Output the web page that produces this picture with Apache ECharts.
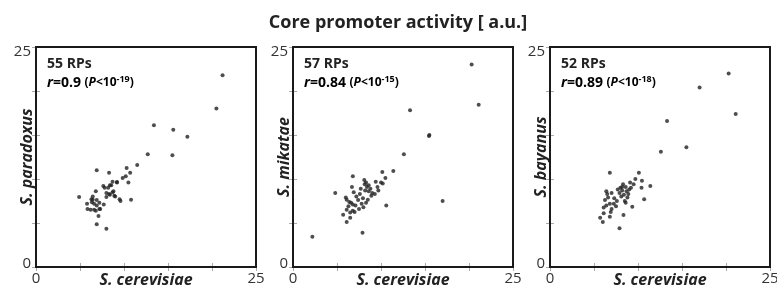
<!DOCTYPE html>
<html>
<head>
<meta charset="utf-8">
<script src="https://cdn.jsdelivr.net/npm/echarts@6/dist/echarts.min.js"></script>
<style>
  html, body { margin: 0; padding: 0; background: #fff; }
  #chart { width: 777px; height: 288px; }
</style>
</head>
<body>
<div id="chart"></div>
<script>
// values, [S. cerevisiae, other species]
const paradoxusPts = [
  [21.2, 21.8], [20.5, 18.0], [13.4, 16.1], [15.6, 15.6], [17.2, 14.8], [12.7, 12.8], [15.5, 12.7],
  [11.5, 11.6], [10.3, 11.25], [6.9, 11.0], [8.3, 10.7], [10.7, 10.7], [10.2, 10.3], [9.85, 10.1],
  [10.5, 9.6], [8.7, 9.7], [9.2, 9.6], [7.65, 9.2], [8.4, 9.3], [8.2, 9.0], [8.8, 8.6], [8.0, 8.4],
  [8.4, 8.2], [9.0, 8.0], [9.5, 7.7], [9.6, 7.5], [10.8, 7.65], [4.9, 7.95], [6.8, 8.6], [6.45, 8.0],
  [6.3, 7.7], [5.8, 7.2], [6.6, 7.2], [7.2, 7.3], [6.9, 7.0], [6.2, 6.5], [6.8, 6.4], [7.3, 6.6],
  [7.1, 5.8], [6.9, 4.85], [8.0, 4.35], [7.8, 9.0], [8.55, 9.3], [9.2, 9.65], [8.7, 8.5], [8.9, 8.1],
  [8.3, 8.3], [6.35, 7.35], [6.9, 7.6], [6.6, 6.5], [7.2, 6.6], [7.7, 7.1], [5.85, 6.6], [6.45, 7.65],
  [8.0, 7.95]
];
const mikataePts = [
  [20.3, 23.0], [21.1, 18.45], [13.3, 17.8], [15.5, 15.0], [15.45, 14.9], [12.6, 12.8], [11.4, 10.9],
  [10.15, 10.8], [6.8, 10.3], [17.0, 7.5], [4.8, 8.4], [10.6, 7.0], [7.9, 3.9], [2.2, 3.45],
  [10.5, 10.1], [10.0, 9.6], [9.4, 9.7], [10.2, 9.5], [6.7, 9.1], [8.15, 9.4], [8.4, 9.1], [6.9, 8.5],
  [7.6, 8.3], [8.2, 8.7], [8.6, 8.6], [9.7, 8.7], [9.3, 8.3], [8.9, 8.1], [7.95, 7.8], [8.5, 7.65],
  [8.3, 7.3], [7.8, 7.2], [6.1, 7.65], [6.4, 7.4], [6.6, 7.3], [6.8, 7.1], [7.1, 7.0], [6.1, 6.5],
  [6.8, 6.4], [7.0, 6.25], [6.5, 6.2], [5.7, 5.95], [6.5, 5.6], [6.1, 5.1], [8.1, 9.9], [8.3, 9.6],
  [8.6, 9.3], [7.7, 8.9], [8.8, 8.9], [9.0, 8.4], [7.4, 7.6], [7.2, 8.0], [6.3, 6.9], [7.5, 6.6],
  [6.0, 7.9], [8.0, 6.8], [9.6, 9.1]
];
const bayanusPts = [
  [20.3, 22.0], [17.0, 20.4], [21.1, 17.4], [13.3, 16.6], [15.5, 13.6], [12.6, 13.1],
  [6.8, 10.7], [10.1, 10.7], [9.7, 10.0], [10.45, 9.8], [11.4, 9.2], [10.4, 9.0], [9.5, 9.4], [9.2, 9.0],
  [8.2, 9.1], [8.2, 8.7], [7.7, 8.8], [8.7, 8.6], [8.9, 8.3], [8.4, 8.2], [7.9, 8.4], [6.4, 8.6],
  [7.0, 8.4], [6.5, 8.3], [8.5, 7.5], [8.6, 7.3], [10.7, 7.7], [6.25, 7.6], [6.8, 7.2], [7.25, 7.2],
  [7.5, 6.9], [6.1, 6.75], [7.0, 6.6], [9.35, 6.85], [6.9, 6.25], [6.1, 6.1], [5.7, 5.6], [6.8, 5.7],
  [8.35, 5.9], [6.0, 5.1], [7.9, 4.4], [8.0, 9.0], [8.3, 9.4], [8.6, 9.1], [9.0, 8.8], [8.1, 8.0],
  [7.3, 7.8], [6.6, 7.9], [7.6, 7.5], [6.4, 7.0], [9.1, 9.6], [8.8, 7.9]
];

const species = ['S. paradoxus', 'S. mikatae', 'S. bayanus'];
const rpCounts = ['55 RPs', '57 RPs', '52 RPs'];
const rValues = ['0.9', '0.84', '0.89'];
const pExponents = ['-19', '-15', '-18'];
const axisMin = 0;
const axisMax = 25;
const tickStep = 5;

const FONT = 'Open Sans';
const chart = echarts.init(document.getElementById('chart'));

const panels = [paradoxusPts, mikataePts, bayanusPts];
const gridLefts = [36, 293, 550];

const grids = [], xAxes = [], yAxes = [], series = [], graphics = [];

function tick() {
  return { show: true, inside: true, length: 4, lineStyle: { color: '#aaa', width: 1 } };
}

panels.forEach((pts, i) => {
  grids.push({
    left: gridLefts[i], top: 47, width: 220, height: 220, outerBoundsMode: 'none',
    show: true, borderColor: '#1a1a1a', borderWidth: 2
  });
  xAxes.push({
    gridIndex: i, type: 'value', min: axisMin, max: axisMax, interval: tickStep,
    name: 'S. cerevisiae', nameLocation: 'middle', nameGap: 5, nameMoveOverlap: false,
    nameTextStyle: { fontFamily: FONT, fontSize: 16, fontWeight: 'bold', fontStyle: 'italic', color: '#222' },
    axisLine: { show: false }, axisTick: tick(), splitLine: { show: false },
    axisLabel: {
      margin: 4, fontFamily: FONT, fontSize: 15, color: '#333',
      formatter: v => (v === axisMin || v === axisMax) ? String(v) : ''
    }
  });
  xAxes.push({
    gridIndex: i, type: 'value', position: 'top', min: axisMin, max: axisMax, interval: tickStep,
    axisLine: { show: false }, axisTick: tick(), axisLabel: { show: false }, splitLine: { show: false }
  });
  yAxes.push({
    gridIndex: i, type: 'value', min: axisMin, max: axisMax, interval: tickStep,
    name: species[i], nameLocation: 'middle', nameGap: 1, nameRotate: 90, nameMoveOverlap: false,
    nameTextStyle: { fontFamily: FONT, fontSize: 16, fontWeight: 'bold', fontStyle: 'italic', color: '#222' },
    axisLine: { show: false }, axisTick: tick(), splitLine: { show: false },
    axisLabel: {
      margin: 5, fontFamily: FONT, fontSize: 15, color: '#333',
      formatter: v => v === axisMax ? '{hi|' + v + '}' : (v === axisMin ? '{lo|' + v + '}' : ''),
      rich: {
        hi: { fontFamily: FONT, fontSize: 15, color: '#333', padding: [10, 0, 0, 0] },
        lo: { fontFamily: FONT, fontSize: 15, color: '#333', padding: [0, 0, 6, 0] }
      }
    }
  });
  yAxes.push({
    gridIndex: i, type: 'value', position: 'right', min: axisMin, max: axisMax, interval: tickStep,
    axisLine: { show: false }, axisTick: tick(), axisLabel: { show: false }, splitLine: { show: false }
  });
  series.push({
    type: 'scatter', xAxisIndex: i * 2, yAxisIndex: i * 2,
    data: pts, symbolSize: 4, itemStyle: { color: '#222' },
    // panel frame, drawn on the axis range
    markArea: {
      silent: true,
      itemStyle: { color: 'rgba(0,0,0,0)', borderColor: '#1a1a1a', borderWidth: 2 },
      data: [[{ coord: [axisMin, axisMin] }, { coord: [axisMax, axisMax] }]]
    }
  });

  graphics.push({
    type: 'text', left: gridLefts[i] + 11, top: 57,
    style: { text: rpCounts[i], font: 'bold 14px "Open Sans"', fill: '#222' }
  });
  graphics.push({
    type: 'text', left: gridLefts[i] + 11, top: 75,
    style: {
      text: '{ri|r}{b|=' + rValues[i] + ' }{s|(}{si|P}{s|<10}{sup|' + pExponents[i] + '}{s|)}',
      rich: {
        ri: { fontFamily: FONT, fontSize: 14, fontWeight: 'bold', fontStyle: 'italic', color: '#222' },
        b: { fontFamily: FONT, fontSize: 14, fontWeight: 'bold', color: '#222' },
        s: { fontFamily: FONT, fontSize: 12, fontWeight: 'bold', color: '#222' },
        si: { fontFamily: FONT, fontSize: 12, fontWeight: 'bold', fontStyle: 'italic', color: '#222' },
        sup: { fontFamily: FONT, fontSize: 9, fontWeight: 'bold', color: '#222', padding: [0, 0, 7, 0] }
      }
    }
  });
});

chart.setOption({
  animation: false,
  title: {
    text: 'Core promoter activity [ a.u.]',
    left: 393, top: 9, textAlign: 'center',
    textStyle: { fontFamily: FONT, fontSize: 18, fontWeight: 'bold', color: '#222' }
  },
  grid: grids,
  xAxis: xAxes,
  yAxis: yAxes,
  series: series,
  graphic: graphics
});
</script>
</body>
</html>
